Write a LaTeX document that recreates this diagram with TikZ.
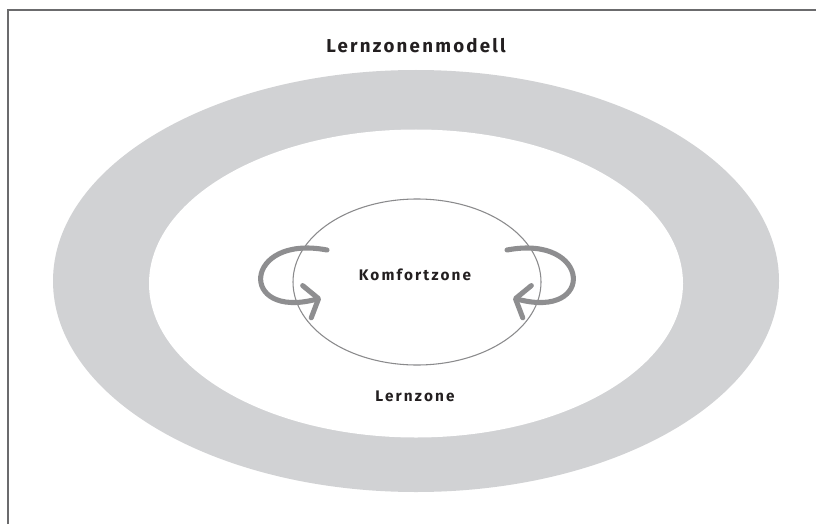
\documentclass[tikz,border=0pt]{standalone}
\usepackage{fontspec}
\setmainfont{Fira Sans}
\newfontfamily\titlefont[LetterSpace=12]{Fira Sans}
\newfontfamily\zonefont[LetterSpace=14]{Fira Sans}
\usetikzlibrary{arrows.meta}
\definecolor{ringgray}{HTML}{D1D2D4}
\definecolor{framegray}{HTML}{6B6B6D}
\definecolor{loopgray}{HTML}{8E8E90}
\definecolor{linegray}{HTML}{8A8A8C}
\definecolor{textdark}{HTML}{231F20}
\tikzset{
  frameline/.style={draw=framegray, line width=1.5pt},
  loopline/.style={draw=loopgray, line width=3.8pt, line cap=round,
    -{Straight Barb[length=9pt, width=25pt, round]}},
  comfort/.style={draw=linegray, line width=0.8pt},
  titletext/.style={text=textdark, font=\titlefont\fontsize{14}{16}\selectfont\bfseries},
  zonetext/.style={text=textdark, font=\zonefont\fontsize{11.5}{13}\selectfont\bfseries},
}
\begin{document}
\begin{tikzpicture}[x=0.75pt, y=-0.75pt]
\useasboundingbox (0,0) rectangle (816,524);
\fill[white] (0,0) rectangle (816,524);
% frame (top and left)
\coordinate (fbl) at (8,524);
\coordinate (ftl) at (8,10);
\coordinate (ftr) at (816,10);
\draw[frameline] (fbl) -- (ftl) -- (ftr);
% ring
\fill[ringgray] (416,281) ellipse [x radius=363, y radius=211];
\fill[white] (416,283.5) ellipse [x radius=267, y radius=154];
% comfort zone
\draw[comfort] (417,282) ellipse [x radius=124, y radius=83];
% loops
\draw[loopline] (327,250) .. controls (243,234) and (238,320) .. (321,298);
\draw[loopline] (507,250) .. controls (591,234) and (596,320) .. (513,298);
% texts
\node[titletext] (title) at (416,46) {Lernzonenmodell};
\node[zonetext] (komfort) at (415,275) {Komfortzone};
\node[zonetext] (lern) at (415,396) {Lernzone};
\end{tikzpicture}
\end{document}
